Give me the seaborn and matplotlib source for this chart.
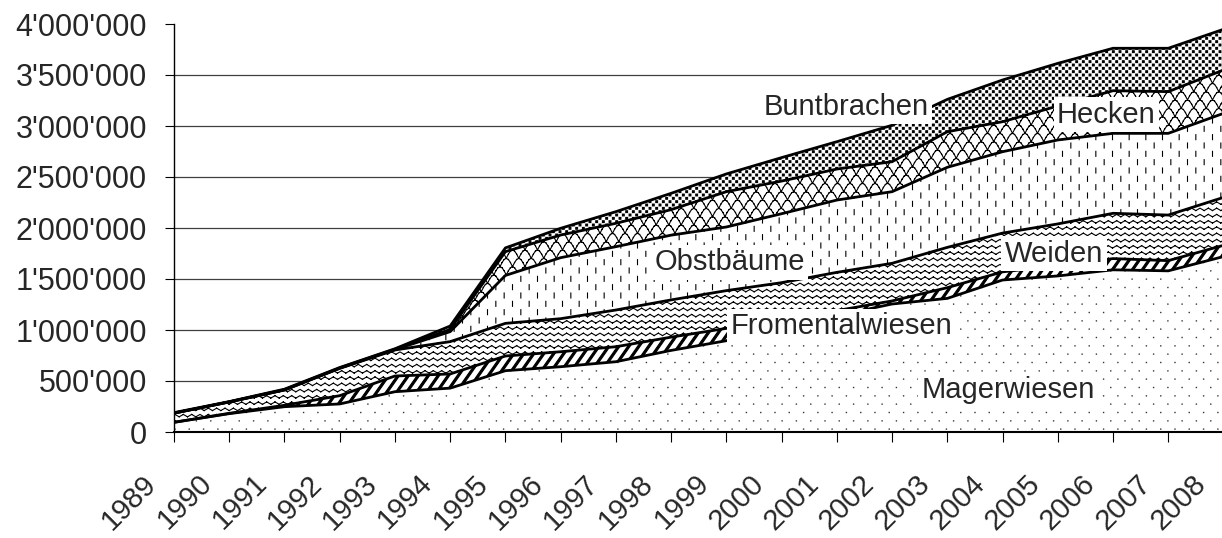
import warnings
import numpy as np
import pandas as pd
import matplotlib
matplotlib.use("Agg")
import matplotlib.pyplot as plt
import matplotlib.hatch as mhatch
from matplotlib.path import Path
from matplotlib.ticker import FuncFormatter
from matplotlib.transforms import ScaledTranslation
import seaborn as sns

warnings.filterwarnings("ignore")

# Werte (ha bzw. Anzahl), von unten nach oben gestapelt
years = list(range(1989, 2009))
magerwiesen = [95000, 180000, 248000, 275000, 395000, 430000, 601000, 640000, 689000, 800000,
               895000, 1020000, 1140000, 1255000, 1310000, 1490000, 1530000, 1590000, 1580000, 1720000]
fromentalwiesen = [0, 3000, 14000, 81000, 154000, 139000, 144000, 147000, 147000, 130000,
                   121000, 80000, 50000, 30000, 105000, 80000, 100000, 110000, 100000, 110000]
weiden = [90000, 112000, 150000, 268000, 255000, 317000, 320000, 324000, 360000, 365000,
          370000, 364000, 375000, 369000, 395000, 380000, 410000, 444000, 447000, 470000]
obstbaeume = [0, 0, 0, 2000, 4000, 98000, 470000, 598000, 621000, 635000,
              624000, 676000, 709000, 702000, 785000, 798000, 823000, 784000, 801000, 824000]
hecken = [0, 0, 3000, 2000, 4000, 22000, 233000, 222000, 229000, 250000,
          346000, 320000, 304000, 294000, 349000, 294000, 333000, 418000, 409000, 425000]
buntbrachen = [5000, 3000, 5000, 4000, 4000, 33000, 37000, 66000, 114000, 160000,
               174000, 230000, 268000, 357000, 317000, 409000, 418000, 416000, 425000, 399000]

series_names = ["Magerwiesen", "Fromentalwiesen", "Weiden", "Obstbäume", "Hecken", "Buntbrachen"]
series_values = [magerwiesen, fromentalwiesen, weiden, obstbaeume, hecken, buntbrachen]
series_hatch = ["m", "s", "w", "d", "k", "b"]

# Beschriftungen im Diagramm (Jahr, Wert der Grundlinie)
label_x = [2004.10, 2001.09, 2004.93, 1999.06, 2005.88, 2001.17]
label_y = [330000, 958000, 1670000, 1588000, 3034000, 3108000]


# --- eigene Schraffuren im Stil der Excel-Muster ---------------------------
def make_path(segs=(), polys=()):
    verts, codes = [], []
    for x0, y0, x1, y1 in segs:
        verts += [(x0, y0), (x1, y1)]
        codes += [Path.MOVETO, Path.LINETO]
    for poly in polys:
        verts += list(poly) + [poly[0]]
        codes += [Path.MOVETO] + [Path.LINETO] * (len(poly) - 1) + [Path.CLOSEPOLY]
    return np.array(verts, float), np.array(codes, Path.code_type)


def square(cx, cy, h):
    return [(cx - h, cy - h), (cx + h, cy - h), (cx + h, cy + h), (cx - h, cy + h)]


# Magerwiesen: feine Punkte
pts = []
for r in range(12):
    off = 0.5 / 7 if r % 2 else 0
    for c in range(7):
        pts.append(square((c + 0.5) / 7 + off - 0.5 / 14, (r + 0.5) / 12, 0.001))
p_mager = make_path(polys=pts)

# Fromentalwiesen: breite Schraegstreifen
n, k, w = 10, 7, 0.25
stripes = []
for j in range(-k - 2, n + 2):
    stripes.append([((j + k * -0.05) / n, -0.05), ((j + k * 1.05) / n, 1.05),
                    ((j + w + k * 1.05) / n, 1.05), ((j + w + k * -0.05) / n, -0.05)])
p_from = make_path(polys=stripes)

# Weiden: Wellenlinien
segs = []
for r in range(16):
    yc = (r + 0.5) / 16
    for q in range(24):
        s = 1 if q % 2 == 0 else -1
        segs.append((q / 24, yc + 0.012 * s, (q + 1) / 24, yc - 0.012 * s))
p_weiden = make_path(segs=segs)

# Obstbaeume: senkrechte Striche
segs = []
for c in range(12):
    off = 0 if c % 2 == 0 else 0.5 / 6
    for r in range(6):
        y0 = r / 6 + off + 0.02
        segs.append(((c + 0.5) / 12, y0, (c + 0.5) / 12, y0 + 0.05))
p_obst = make_path(segs=segs)

# Hecken: Schuppen
segs = []
t = np.linspace(0, 1, 7)
for r in range(12):
    yb = r / 12
    off = 0.5 / 8 if r % 2 else 0
    for c in range(-1, 9):
        xs = (c + t) / 8 + off
        ys = yb + np.sin(np.pi * t) / 12
        for a in range(len(t) - 1):
            segs.append((xs[a], ys[a], xs[a + 1], ys[a + 1]))
p_hecken = make_path(segs=segs)

# Buntbrachen: dichte Punkte
pts = []
for r in range(30):
    off = 0.5 / 15 if r % 2 else 0
    for c in range(16):
        pts.append(square(c / 15 + off, (r + 0.5) / 30, 0.009))
p_bunt = make_path(polys=pts)

PATTERNS = {"m": p_mager, "s": p_from, "w": p_weiden, "d": p_obst, "k": p_hecken, "b": p_bunt}


class CustomHatch(mhatch.HatchPatternBase):
    def __init__(self, hatch, density):
        self.parts = [PATTERNS[c] for c in PATTERNS if c in hatch]
        self.num_vertices = sum(len(v) for v, _ in self.parts)

    def set_vertices_and_codes(self, vertices, codes):
        i = 0
        for v, c in self.parts:
            vertices[i:i + len(v)] = v
            codes[i:i + len(v)] = c
            i += len(v)


mhatch._hatch_types.append(CustomHatch)

# --- Diagramm ---------------------------------------------------------------
sns.set_theme(style="white")
plt.rcParams["font.family"] = ["Liberation Sans", "DejaVu Sans"]
plt.rcParams["hatch.color"] = "black"
plt.rcParams["hatch.linewidth"] = 0.8

fig = plt.figure(figsize=(12.22, 5.38), dpi=100)
ax = fig.add_axes([174 / 1222, 106 / 538, 1049.5 / 1222, 408 / 538])

cum = np.cumsum(np.array(series_values, float), axis=0)
bottom = np.zeros(len(years))
for name, top, hatch in zip(series_names, cum, series_hatch):
    ax.fill_between(years, bottom, top, facecolor="white", edgecolor="black",
                    linewidth=0, hatch=hatch, zorder=2)
    bottom = top

df = pd.DataFrame({
    "Jahr": np.tile(years, len(series_names)),
    "Wert": cum.ravel(),
    "Serie": np.repeat(series_names, len(years)),
})
sns.lineplot(data=df, x="Jahr", y="Wert", hue="Serie", palette=["black"] * len(series_names),
             linewidth=2, legend=False, estimator=None, sort=False, ax=ax, zorder=3)

for name, x, y in zip(series_names, label_x, label_y):
    ax.text(x, y, name, ha="center", va="baseline", fontsize=21, zorder=5,
            bbox=dict(boxstyle="square,pad=0.12", fc="white", ec="none"))

ax.set_xlim(1989, 2008)
ax.set_ylim(0, 4000000)
ax.set_xlabel("")
ax.set_ylabel("")

ax.tick_params(axis="y", direction="out", length=6.5, width=0.8, color="black",
               labelsize=22, pad=13, left=True)
ax.tick_params(axis="x", direction="out", length=7, width=0.8, color="black",
               labelsize=21, pad=27, bottom=True)

ax.set_yticks(np.arange(0, 4000001, 500000))
ax.yaxis.set_major_formatter(FuncFormatter(lambda v, p: f"{int(v):,}".replace(",", "'")))
ax.yaxis.grid(True, color="#404040", linewidth=0.9, zorder=0)
ax.set_axisbelow(True)
ax.get_ygridlines()[-1].set_visible(False)

ax.set_xticks(years, labels=[str(y) for y in years], rotation=45, ha="right",
              va="center", rotation_mode="anchor")
offset = ScaledTranslation(-22 / 100, 0, fig.dpi_scale_trans)
for lab in ax.get_xticklabels():
    lab.set_transform(lab.get_transform() + offset)

for side in ["top", "right"]:
    ax.spines[side].set_visible(False)
ax.spines["left"].set_color("black")
ax.spines["left"].set_linewidth(1.0)
ax.spines["bottom"].set_color("black")
ax.spines["bottom"].set_linewidth(1.5)
ax.spines["left"].set_zorder(4)
ax.spines["bottom"].set_zorder(4)

fig.savefig("out.png", dpi=100, facecolor="white")
